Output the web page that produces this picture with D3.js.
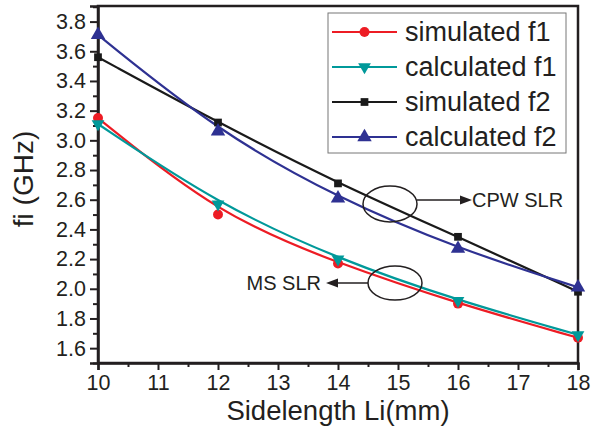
<!DOCTYPE html>
<html>
<head>
<meta charset="utf-8">
<script src="https://d3js.org/d3.v7.min.js"></script>
<style>
  body { margin: 0; background: #fff; }
  text { font-family: "Liberation Sans", Arial, sans-serif; fill: #231f20; }
</style>
</head>
<body>
<div id="vizArea"></div>
<script>
// DATA
var sideLength = [10, 12, 14, 16, 18];
var simulatedF1 = [3.15, 2.50, 2.17, 1.90, 1.67];
var calculatedF1 = [3.11, 2.57, 2.20, 1.92, 1.69];
var simulatedF2 = [3.56, 3.12, 2.71, 2.35, 1.98];
var calculatedF2 = [3.71, 3.06, 2.61, 2.27, 2.01];
var seriesNames = ["simulated f1", "calculated f1", "simulated f2", "calculated f2"];
var xTicks = [10, 11, 12, 13, 14, 15, 16, 17, 18];
var yTicks = [1.6, 1.8, 2.0, 2.2, 2.4, 2.6, 2.8, 3.0, 3.2, 3.4, 3.6, 3.8];

var W = 592, H = 429;
var plotL = 98, plotR = 578, plotT = 6, plotB = 363;

var canvas = d3.select("#vizArea")
  .append("svg")
    .attr("width", W)
    .attr("height", H);

var x = d3.scaleLinear().domain([10, 18]).range([plotL, plotR]);
var y = d3.scaleLinear().domain([1.5, 3.905]).range([plotB, plotT]);

var series = [
  { name: seriesNames[0], values: simulatedF1, color: "#ed1c24", symbol: d3.symbolCircle, size: 78, rot: 0 },
  { name: seriesNames[1], values: calculatedF1, color: "#00999a", symbol: d3.symbolTriangle, size: 70, rot: 180 },
  { name: seriesNames[2], values: simulatedF2, color: "#1a1a1a", symbol: d3.symbolSquare, size: 60, rot: 0 },
  { name: seriesNames[3], values: calculatedF2, color: "#2e3192", symbol: d3.symbolTriangle, size: 90, rot: 0 }
];

// frame
canvas.append("rect")
  .attr("x", plotL)
  .attr("y", plotT)
  .attr("width", plotR - plotL)
  .attr("height", plotB - plotT)
  .attr("fill", "none")
  .attr("stroke", "#231f20")
  .attr("stroke-width", 2.5);

// minor ticks
var xMinor = d3.range(10.5, 18, 1);
var yMinor = d3.range(1.5, 3.95, 0.2).map(function (d) { return +d.toFixed(1); });
canvas.append("g")
  .attr("transform", "translate(0," + plotB + ")")
  .call(d3.axisBottom(x).tickValues(xMinor).tickSize(4).tickFormat(""))
  .call(function (g) { g.select(".domain").remove(); g.selectAll("line").attr("stroke-width", 2).attr("stroke", "#231f20"); });
canvas.append("g")
  .attr("transform", "translate(" + plotL + ",0)")
  .call(d3.axisLeft(y).tickValues(yMinor).tickSize(5).tickFormat(""))
  .call(function (g) { g.select(".domain").remove(); g.selectAll("line").attr("stroke-width", 2).attr("stroke", "#231f20"); });

// major axes
var xAxis = canvas.append("g")
  .attr("transform", "translate(0," + plotB + ")")
  .call(d3.axisBottom(x).tickValues(xTicks).tickSize(7).tickPadding(5).tickFormat(d3.format("d")));
var yAxis = canvas.append("g")
  .attr("transform", "translate(" + plotL + ",0)")
  .call(d3.axisLeft(y).tickValues(yTicks).tickSize(8).tickPadding(4).tickFormat(d3.format(".1f")));
[xAxis, yAxis].forEach(function (g) {
  g.attr("font-size", null).attr("font-family", null);
  g.select(".domain").attr("stroke-width", 2.5).attr("stroke", "#231f20");
  g.selectAll(".tick line").attr("stroke-width", 2).attr("stroke", "#231f20");
  g.selectAll(".tick text").style("font-size", "21.5px").attr("fill", "#231f20");
});

// axis titles
canvas.append("text")
  .attr("x", (plotL + plotR) / 2)
  .attr("y", 420)
  .attr("text-anchor", "middle")
  .style("font-size", "27.5px")
  .text("Sidelength Li(mm)");
canvas.append("text")
  .attr("transform", "translate(33,179) rotate(-90)")
  .attr("text-anchor", "middle")
  .style("font-size", "28px")
  .text("fi (GHz)");

// curves + markers
var line = d3.line()
  .x(function (d, i) { return x(sideLength[i]); })
  .y(function (d) { return y(d); })
  .curve(d3.curveBasis);

series.forEach(function (s) {
  canvas.append("path")
    .attr("d", line(s.values))
    .attr("fill", "none")
    .attr("stroke", s.color)
    .attr("stroke-width", 2.2);
});
series.forEach(function (s) {
  canvas.selectAll(null)
    .data(s.values)
    .enter()
    .append("path")
      .attr("d", d3.symbol().type(s.symbol).size(s.size))
      .attr("transform", function (d, i) {
        return "translate(" + x(sideLength[i]) + "," + y(d) + ") rotate(" + s.rot + ")";
      })
      .attr("fill", s.color);
});

// annotations
var ann = canvas.append("g");
ann.append("ellipse").attr("cx", 390).attr("cy", 204).attr("rx", 27).attr("ry", 18)
  .attr("fill", "none").attr("stroke", "#231f20").attr("stroke-width", 1.5);
ann.append("line").attr("x1", 417).attr("y1", 200).attr("x2", 462).attr("y2", 200)
  .attr("stroke", "#231f20").attr("stroke-width", 1.5);
ann.append("path").attr("d", "M460,195.5 L472,200 L460,204.5 Z").attr("fill", "#231f20");
ann.append("text").attr("x", 472).attr("y", 207).style("font-size", "20px").text("CPW SLR");

ann.append("ellipse").attr("cx", 395).attr("cy", 283).attr("rx", 27).attr("ry", 17)
  .attr("fill", "none").attr("stroke", "#231f20").attr("stroke-width", 1.5);
ann.append("line").attr("x1", 368).attr("y1", 283).attr("x2", 336).attr("y2", 283)
  .attr("stroke", "#231f20").attr("stroke-width", 1.5);
ann.append("path").attr("d", "M338,278.5 L326,283 L338,287.5 Z").attr("fill", "#231f20");
ann.append("text").attr("x", 321).attr("y", 290).attr("text-anchor", "end").style("font-size", "20px").text("MS SLR");

// legend
var legend = canvas.append("g");
legend.append("rect")
  .attr("x", 328).attr("y", 13).attr("width", 238).attr("height", 140)
  .attr("fill", "#fff").attr("stroke", "#777").attr("stroke-width", 1);
series.forEach(function (s, i) {
  var cy = 32 + i * 35;
  legend.append("line").attr("x1", 332).attr("x2", 397).attr("y1", cy).attr("y2", cy)
    .attr("stroke", s.color).attr("stroke-width", 2.2);
  legend.append("path")
    .attr("d", d3.symbol().type(s.symbol).size(s.size))
    .attr("transform", "translate(364.5," + cy + ") rotate(" + s.rot + ")")
    .attr("fill", s.color);
  legend.append("text").attr("x", 405).attr("y", cy + 9).style("font-size", "27px").text(s.name);
});
</script>
</body>
</html>
